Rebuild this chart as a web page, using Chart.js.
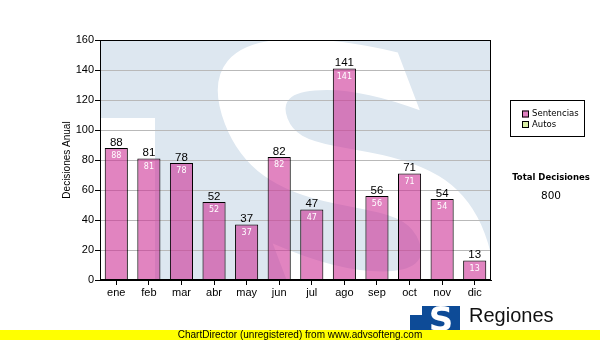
<!DOCTYPE html>
<html>
<head>
<meta charset="utf-8">
<script src="https://cdn.jsdelivr.net/npm/chart.js@4/dist/chart.umd.min.js"></script>
<style>
  html, body { margin: 0; padding: 0; background: #ffffff; }
  canvas { display: block; }
</style>
</head>
<body>
<canvas id="chart" width="600" height="340"></canvas>
<script>
// Monthly decisions
const months = ['ene', 'feb', 'mar', 'abr', 'may', 'jun', 'jul', 'ago', 'sep', 'oct', 'nov', 'dic'];
const sentencias = [88, 81, 78, 52, 37, 82, 47, 141, 56, 71, 54, 13];
const seriesNames = ['Sentencias', 'Autos'];
const seriesSwatches = ['#e07fc0', '#d9efa5'];
const yAxisTitle = 'Decisiones Anual';
const totalTitle = 'Total Decisiones';
const footerText = 'ChartDirector (unregistered) from www.advsofteng.com';
const brandName = 'Regiones';
const yMin = 0, yMax = 160, yStep = 20;

const total = sentencias.reduce((s, v) => s + v, 0);

// Light-blue logo backdrop behind the plot
const backdrop = {
  id: 'backdrop',
  beforeDraw(chart) {
    const { ctx, chartArea: a } = chart;
    ctx.save();
    ctx.beginPath();
    ctx.rect(a.left, a.top, a.width, a.height);
    ctx.clip();
    ctx.fillStyle = '#dde7f0';
    ctx.fillRect(a.left, a.top, a.width, a.height);
    ctx.fillStyle = '#ffffff';
    ctx.fillRect(a.left, a.top + 78, 55, a.height);
    ctx.font = 'bold 100px "DejaVu Sans"';
    const m = ctx.measureText('S');
    const gw = m.actualBoundingBoxLeft + m.actualBoundingBoxRight;
    const gh = m.actualBoundingBoxAscent + m.actualBoundingBoxDescent;
    // glyph box, back-slanted around its vertical centre
    const bx = a.left + 145, by = a.top - 4, bw = 220, bh = 285;
    const slant = 0.38;
    const cy = by + bh / 2;
    ctx.transform(1, 0, slant, 1, -slant * cy, 0);
    ctx.translate(bx, by);
    ctx.scale(bw / gw, bh / gh);
    ctx.textAlign = 'left';
    ctx.textBaseline = 'alphabetic';
    ctx.fillText('S', m.actualBoundingBoxLeft, m.actualBoundingBoxAscent);
    ctx.restore();
  }
};

// Value labels above and inside every bar
const barLabels = {
  id: 'barLabels',
  afterDatasetsDraw(chart) {
    const { ctx } = chart;
    const meta = chart.getDatasetMeta(0);
    const data = chart.data.datasets[0].data;
    ctx.save();
    ctx.textAlign = 'center';
    ctx.textBaseline = 'alphabetic';
    meta.data.forEach((bar, i) => {
      const v = String(data[i]);
      ctx.fillStyle = '#000000';
      ctx.font = '11.5px "Liberation Sans"';
      ctx.fillText(v, bar.x, bar.y - 2.5);
      ctx.fillStyle = '#ffffff';
      ctx.font = '8px "DejaVu Sans"';
      ctx.fillText(v, bar.x, bar.y + 10);
    });
    ctx.restore();
  }
};

// Frame, axis title, legend box, total, brand and footer
const decorations = {
  id: 'decorations',
  afterDraw(chart) {
    const { ctx, chartArea: a } = chart;
    ctx.save();
    ctx.strokeStyle = '#000000';
    ctx.lineWidth = 1;
    ctx.strokeRect(a.left + 0.5, a.top + 0.5, a.width - 1, a.height - 1);

    // y axis title
    ctx.save();
    ctx.translate(67, (a.top + a.bottom) / 2);
    ctx.rotate(-Math.PI / 2);
    ctx.fillStyle = '#000000';
    ctx.font = '10px "Liberation Sans"';
    ctx.textAlign = 'center';
    ctx.textBaseline = 'middle';
    ctx.fillText(yAxisTitle, 0, 0);
    ctx.restore();

    // legend
    const lx = 510, ly = 100, lw = 74, lh = 36;
    ctx.fillStyle = '#ffffff';
    ctx.fillRect(lx, ly, lw, lh);
    ctx.strokeRect(lx + 0.5, ly + 0.5, lw, lh);
    ctx.font = '8.5px "DejaVu Sans"';
    ctx.textAlign = 'left';
    ctx.textBaseline = 'middle';
    seriesNames.forEach((name, i) => {
      const cy = ly + 14 + i * 10.5;
      ctx.fillStyle = seriesSwatches[i];
      ctx.fillRect(lx + 12, cy - 3.5, 7, 7);
      ctx.strokeStyle = '#000000';
      ctx.strokeRect(lx + 12.5, cy - 3.5 + 0.5, 6, 6);
      ctx.fillStyle = '#000000';
      ctx.fillText(name, lx + 22, cy);
    });

    // total
    ctx.textAlign = 'center';
    ctx.font = 'bold 8.5px "DejaVu Sans"';
    ctx.fillText(totalTitle, 551, 178);
    ctx.font = '10.5px "DejaVu Sans"';
    ctx.fillText(String(total), 551, 196);

    // brand mark
    ctx.fillStyle = '#0d4b97';
    ctx.fillRect(410, 306, 50, 24);
    ctx.fillStyle = '#ffffff';
    ctx.fillRect(410, 306, 12, 9);
    ctx.save();
    ctx.beginPath();
    ctx.rect(410, 306, 50, 24);
    ctx.clip();
    ctx.font = 'bold 34px "DejaVu Sans"';
    ctx.textAlign = 'center';
    ctx.textBaseline = 'alphabetic';
    ctx.fillText('S', 441, 331);
    ctx.restore();
    ctx.fillStyle = '#111111';
    ctx.font = '20px "Liberation Sans"';
    ctx.textAlign = 'left';
    ctx.textBaseline = 'alphabetic';
    ctx.fillText(brandName, 469, 322);

    // footer strip
    ctx.fillStyle = '#ffff00';
    ctx.fillRect(0, 330, 600, 10);
    ctx.fillStyle = '#000000';
    ctx.font = '10px "Liberation Sans"';
    ctx.textAlign = 'center';
    ctx.textBaseline = 'middle';
    ctx.fillText(footerText, 300, 335.5);
    ctx.restore();
  }
};

Chart.defaults.font.family = '"Liberation Sans", Arial, sans-serif';
Chart.defaults.color = '#000000';

new Chart(document.getElementById('chart'), {
  type: 'bar',
  data: {
    labels: months,
    datasets: [{
      label: seriesNames[0],
      data: sentencias,
      backgroundColor: 'rgba(205, 50, 150, 0.6)',
      borderColor: '#000000',
      borderWidth: 1,
      barPercentage: 0.71,
      categoryPercentage: 1.0
    }]
  },
  options: {
    responsive: false,
    devicePixelRatio: 1,
    animation: false,
    layout: { padding: { left: 0, right: 109, top: 40, bottom: 40 } },
    plugins: {
      legend: { display: false },
      title: { display: false },
      tooltip: { enabled: false }
    },
    scales: {
      x: {
        afterFit(scale) { scale.height = 20; },
        grid: {
          drawOnChartArea: false,
          offset: false,
          tickLength: 5,
          tickColor: '#000000'
        },
        border: { display: true, color: '#000000' },
        ticks: { font: { size: 11 }, padding: 1, color: '#000000' }
      },
      y: {
        min: yMin,
        max: yMax,
        afterFit(scale) { scale.width = 100; },
        grid: {
          color: '#b9b9b9',
          tickLength: 5,
          tickColor: '#000000'
        },
        border: { display: true, color: '#000000' },
        ticks: { stepSize: yStep, font: { size: 11 }, padding: 1, color: '#000000' }
      }
    }
  },
  plugins: [backdrop, barLabels, decorations]
});
</script>
</body>
</html>
